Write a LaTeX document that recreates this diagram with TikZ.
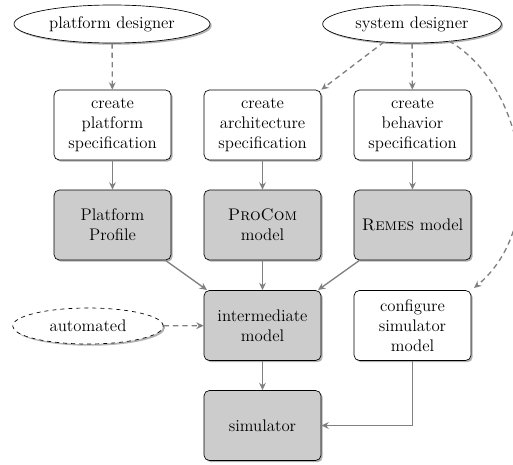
\documentclass[tikz,border=0pt]{standalone}
\usetikzlibrary{shapes.geometric,shadows,arrows.meta}
\begin{document}
\begin{tikzpicture}[x=0.75pt,y=-0.75pt,
  font=\rmfamily\fontsize{12.6}{15}\selectfont,
  shad/.style={drop shadow={shadow xshift=1.3pt,shadow yshift=-1.3pt,fill=black!30,opacity=1}},
  box/.style={draw=black,line width=0.5pt,rounded corners=4pt,minimum width=87.75pt,minimum height=52.5pt,align=center,inner sep=1pt,fill=white,shad},
  gbox/.style={box,fill=black!20},
  actor/.style={ellipse,draw=black,line width=0.5pt,fill=white,shad,inner sep=0pt},
  conn/.style={draw=black!50,line width=1pt,-{Stealth[length=5.5pt,width=5pt]}},
  dconn/.style={conn,dash pattern=on 4pt off 3pt}
]
\useasboundingbox (0,0) rectangle (513,464);
\node[actor,minimum width=147pt,minimum height=28.5pt] (pd) at (112,24) {platform designer};
\node[actor,minimum width=134pt,minimum height=28.5pt] (sd) at (412,24) {system designer};
\node[actor,dashed,minimum width=113pt,minimum height=27pt] (auto) at (88,326) {automated};

\node[box] (cps) at (112.5,125) {create\\platform\\specification};
\node[box] (cas) at (262.5,125) {create\\architecture\\specification};
\node[box] (cbs) at (412.5,125) {create\\behavior\\specification};

\node[gbox] (pp) at (112.5,225) {Platform\\Profile};
\node[gbox] (pc) at (262.5,225) {\textsc{ProCom}\\model};
\node[gbox] (rm) at (412.5,225) {\textsc{Remes} model};

\node[gbox] (im) at (262.5,325.5) {intermediate\\model};
\node[box] (conf) at (412.5,325.5) {configure\\simulator\\model};
\node[gbox] (sim) at (262.5,425.5) {simulator};

\coordinate (sdA) at (384,42);
\coordinate (sdB) at (449,41);
\coordinate (confA) at (474,288);
\coordinate (ppA) at (165,260);
\coordinate (imA) at (207,290);
\coordinate (rmA) at (360,260);
\coordinate (imB) at (318,290);

\draw[dconn] (pd) -- (cps);
\draw[dconn] (sdA) -- (cas.north east);
\draw[dconn] (sd) -- (cbs);
\draw[dconn] (sdB) .. controls (525,85) and (550,225) .. (confA);
\draw[conn] (cps) -- (pp);
\draw[conn] (cas) -- (pc);
\draw[conn] (cbs) -- (rm);
\draw[conn] (ppA) -- (imA);
\draw[conn] (pc) -- (im);
\draw[conn] (rmA) -- (imB);
\draw[dconn] (auto) -- (im);
\draw[conn] (im) -- (sim);
\draw[conn] (conf.south) |- (sim.east);
\end{tikzpicture}
\end{document}
